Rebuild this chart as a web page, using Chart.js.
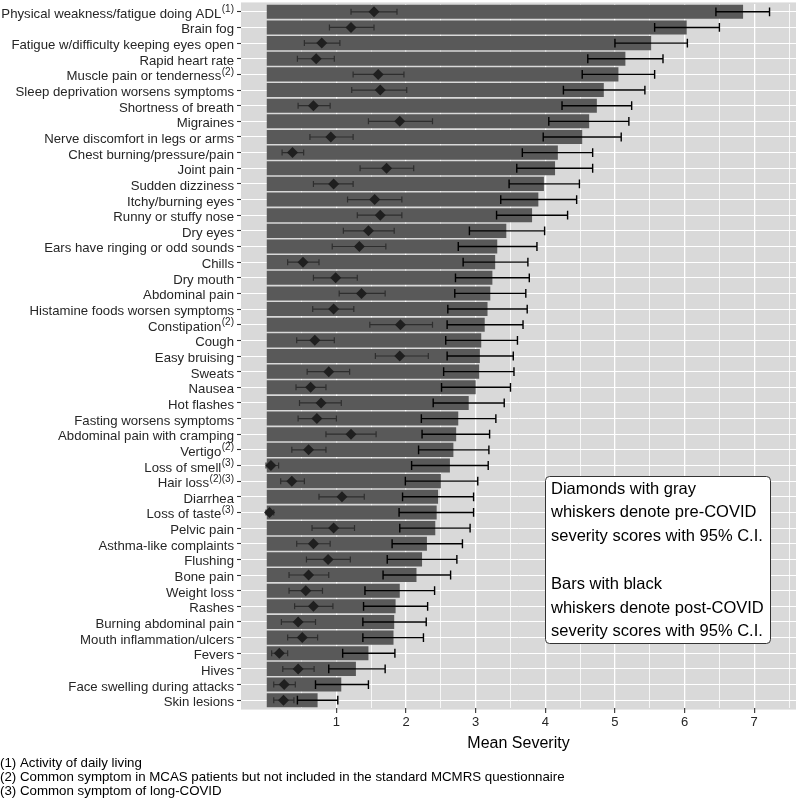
<!DOCTYPE html>
<html>

<head>
    <title>Mean severity pre and post COVID</title>
    <script src="https://cdn.jsdelivr.net/npm/chart.js"></script>
    <style>
        html, body { margin: 0; padding: 0; background: #fff; }
        #wrap { width: 796px; height: 799px; position: relative; }
    </style>
</head>

<body>
    <div id="wrap">
        <canvas id="myChart"></canvas>
    </div>

    <script>
        var symptoms = [
            'Physical weakness/fatigue doing ADL', 'Brain fog', 'Fatigue w/difficulty keeping eyes open',
            'Rapid heart rate', 'Muscle pain or tenderness', 'Sleep deprivation worsens symptoms',
            'Shortness of breath', 'Migraines', 'Nerve discomfort in legs or arms', 'Chest burning/pressure/pain',
            'Joint pain', 'Sudden dizziness', 'Itchy/burning eyes', 'Runny or stuffy nose', 'Dry eyes',
            'Ears have ringing or odd sounds', 'Chills', 'Dry mouth', 'Abdominal pain',
            'Histamine foods worsen symptoms', 'Constipation', 'Cough', 'Easy bruising', 'Sweats', 'Nausea',
            'Hot flashes', 'Fasting worsens symptoms', 'Abdominal pain with cramping', 'Vertigo',
            'Loss of smell', 'Hair loss', 'Diarrhea', 'Loss of taste', 'Pelvic pain', 'Asthma-like complaints',
            'Flushing', 'Bone pain', 'Weight loss', 'Rashes', 'Burning abdominal pain',
            'Mouth inflammation/ulcers', 'Fevers', 'Hives', 'Face swelling during attacks', 'Skin lesions'
        ];
        // footnote markers shown as superscript after the label
        var notes = [
            '(1)', '', '', '', '(2)', '', '', '', '', '', '', '', '', '', '', '', '', '', '', '', '(2)', '', '',
            '', '', '', '', '', '(2)', '(3)', '(2)(3)', '', '(3)', '', '', '', '', '', '', '', '', '', '', '', ''
        ];

        // post-COVID (bars, black whiskers)
        var postMean = [6.84, 6.03, 5.52, 5.15, 5.05, 4.84, 4.74, 4.63, 4.53, 4.18, 4.14, 3.98, 3.90, 3.81, 3.44,
            3.31, 3.28, 3.24, 3.21, 3.17, 3.13, 3.08, 3.06, 3.05, 3.00, 2.90, 2.75, 2.72, 2.68, 2.63, 2.50, 2.46,
            2.44, 2.42, 2.30, 2.23, 2.15, 1.91, 1.85, 1.83, 1.82, 1.46, 1.28, 1.07, 0.73];
        var postLow = [6.45, 5.57, 5.00, 4.61, 4.53, 4.26, 4.24, 4.05, 3.97, 3.67, 3.59, 3.48, 3.36, 3.30, 2.91,
            2.75, 2.82, 2.71, 2.70, 2.60, 2.59, 2.57, 2.59, 2.54, 2.51, 2.39, 2.22, 2.23, 2.18, 2.08, 1.99, 1.95,
            1.90, 1.91, 1.80, 1.73, 1.67, 1.41, 1.39, 1.38, 1.38, 1.09, 0.89, 0.70, 0.44];
        var postHigh = [7.22, 6.50, 6.04, 5.69, 5.57, 5.43, 5.24, 5.20, 5.09, 4.68, 4.68, 4.49, 4.45, 4.32, 3.99,
            3.88, 3.75, 3.77, 3.72, 3.74, 3.68, 3.60, 3.54, 3.55, 3.50, 3.41, 3.29, 3.20, 3.19, 3.18, 3.03, 2.97,
            2.97, 2.92, 2.81, 2.73, 2.64, 2.41, 2.31, 2.29, 2.25, 1.84, 1.70, 1.46, 1.02];

        // pre-COVID (diamonds, gray whiskers)
        var preMean = [1.54, 1.21, 0.79, 0.71, 1.60, 1.63, 0.67, 1.91, 0.92, 0.37, 1.72, 0.96, 1.55, 1.63, 1.46,
            1.33, 0.52, 0.99, 1.36, 0.96, 1.92, 0.69, 1.91, 0.89, 0.63, 0.78, 0.72, 1.21, 0.60, 0.06, 0.36, 1.08,
            0.04, 0.96, 0.67, 0.88, 0.60, 0.56, 0.67, 0.45, 0.51, 0.18, 0.45, 0.25, 0.24];
        var preLow = [1.21, 0.90, 0.54, 0.44, 1.24, 1.22, 0.45, 1.46, 0.62, 0.22, 1.34, 0.67, 1.16, 1.30, 1.10,
            0.94, 0.30, 0.67, 1.04, 0.66, 1.48, 0.43, 1.56, 0.58, 0.42, 0.47, 0.45, 0.85, 0.36, -0.01, 0.20, 0.75,
            -0.01, 0.65, 0.43, 0.57, 0.32, 0.32, 0.40, 0.21, 0.30, 0.07, 0.23, 0.10, 0.10];
        var preHigh = [1.87, 1.54, 1.05, 0.97, 1.97, 2.01, 0.91, 2.38, 1.24, 0.53, 2.11, 1.24, 1.94, 1.94, 1.83,
            1.71, 0.75, 1.30, 1.70, 1.25, 2.38, 0.97, 2.32, 1.19, 0.85, 1.07, 1.00, 1.57, 0.85, 0.17, 0.54, 1.40,
            0.10, 1.26, 0.91, 1.20, 0.89, 0.80, 0.95, 0.70, 0.73, 0.30, 0.68, 0.41, 0.39];

        var xGridValues = [0.5, 1, 1.5, 2, 2.5, 3, 3.5, 4, 4.5, 5, 5.5, 6, 6.5, 7, 7.5];

        var legendLines = [
            'Diamonds with gray', 'whiskers denote pre-COVID', 'severity scores with 95% C.I.', '',
            'Bars with black', 'whiskers denote post-COVID', 'severity scores with 95% C.I.'
        ];
        var footnotes = [
            '(1) Activity of daily living',
            '(2) Common symptom in MCAS patients but not included in the standard MCMRS questionnaire',
            '(3) Common symptom of long-COVID'
        ];

        var FONT = '"Liberation Sans", Arial, Helvetica, sans-serif';
        Chart.defaults.font.family = FONT;

        var ggPlugin = {
            id: 'gg',
            beforeDraw: function (chart) {
                // gray panel, a bit taller than the chart area (ggplot's 0.6 expansion)
                var a = chart.chartArea, ctx = chart.ctx;
                var ext = (a.bottom - a.top) / symptoms.length * 0.1;
                ctx.save();
                ctx.fillStyle = '#d9d9d9';
                ctx.fillRect(a.left, a.top - ext, a.right - a.left, a.bottom - a.top + 2 * ext);
                ctx.restore();
            },
            afterDatasetDraw: function (chart, args) {
                if (args.index !== 0) return;
                var ctx = chart.ctx, xs = chart.scales.x, ys = chart.scales.y;
                ctx.save();
                for (var i = 0; i < symptoms.length; i++) {
                    var y = ys.getPixelForValue(i);
                    // post-COVID whiskers
                    var x1 = xs.getPixelForValue(postLow[i]), x2 = xs.getPixelForValue(postHigh[i]);
                    ctx.strokeStyle = '#000';
                    ctx.lineWidth = 1.4;
                    ctx.beginPath();
                    ctx.moveTo(x1, y); ctx.lineTo(x2, y);
                    ctx.moveTo(x1, y - 4.4); ctx.lineTo(x1, y + 4.4);
                    ctx.moveTo(x2, y - 4.4); ctx.lineTo(x2, y + 4.4);
                    ctx.stroke();
                    // pre-COVID whiskers
                    x1 = xs.getPixelForValue(preLow[i]); x2 = xs.getPixelForValue(preHigh[i]);
                    ctx.strokeStyle = '#2e2e2e';
                    ctx.lineWidth = 1.2;
                    ctx.beginPath();
                    ctx.moveTo(x1, y); ctx.lineTo(x2, y);
                    ctx.moveTo(x1, y - 3); ctx.lineTo(x1, y + 3);
                    ctx.moveTo(x2, y - 3); ctx.lineTo(x2, y + 3);
                    ctx.stroke();
                }
                ctx.restore();
            },
            afterDraw: function (chart) {
                var ctx = chart.ctx, ys = chart.scales.y, a = chart.chartArea;
                ctx.save();

                // y labels with superscript footnote markers
                var right = a.left - 7;
                ctx.fillStyle = '#262626';
                for (var i = 0; i < symptoms.length; i++) {
                    var base = ys.getPixelForValue(i) + 6;
                    var supW = 0;
                    if (notes[i]) {
                        ctx.font = '10px ' + FONT;
                        supW = ctx.measureText(notes[i]).width + 0.5;
                        ctx.textAlign = 'left';
                        ctx.textBaseline = 'alphabetic';
                        ctx.fillText(notes[i], right - supW + 0.5, base - 5.5);
                    }
                    ctx.font = '13.2px ' + FONT;
                    ctx.textAlign = 'right';
                    ctx.textBaseline = 'alphabetic';
                    ctx.fillText(symptoms[i], right - supW, base);
                }

                // note box
                var bx = 545, by = 476, bw = 225, bh = 167;
                ctx.beginPath();
                ctx.roundRect(bx + 0.5, by + 0.5, bw, bh, 4);
                ctx.fillStyle = '#fff';
                ctx.fill();
                ctx.strokeStyle = '#333';
                ctx.lineWidth = 1;
                ctx.stroke();
                ctx.fillStyle = '#000';
                ctx.font = '16.5px ' + FONT;
                ctx.textAlign = 'left';
                ctx.textBaseline = 'middle';
                legendLines.forEach(function (t, k) {
                    if (t) ctx.fillText(t, bx + 6, by + 13 + k * 23.8);
                });

                // footnotes under the plot
                ctx.font = '13.3px ' + FONT;
                ctx.fillStyle = '#000';
                footnotes.forEach(function (t, k) {
                    ctx.fillText(t, 0, 763 + k * 14.2);
                });
                ctx.restore();
            }
        };

        var ctx = document.getElementById('myChart').getContext('2d');

        var myChart = new Chart(ctx, {
            type: 'bar',
            data: {
                labels: symptoms,
                datasets: [
                    {
                        label: 'Post-COVID',
                        data: postMean,
                        backgroundColor: '#595959',
                        borderWidth: 0,
                        barPercentage: 0.9,
                        categoryPercentage: 1,
                        order: 2
                    },
                    {
                        type: 'line',
                        label: 'Pre-COVID',
                        indexAxis: 'y',
                        data: preMean,
                        showLine: false,
                        pointStyle: 'rectRot',
                        pointRadius: 5.5,
                        pointHoverRadius: 5.5,
                        pointBackgroundColor: '#1f1f1f',
                        pointBorderWidth: 0,
                        order: 1
                    }
                ]
            },
            plugins: [ggPlugin],
            options: {
                indexAxis: 'y',
                responsive: true,
                maintainAspectRatio: false,
                animation: false,
                layout: { autoPadding: false, padding: { top: 4, right: 0, bottom: 0, left: 0 } },
                plugins: {
                    legend: { display: false },
                    tooltip: { enabled: false }
                },
                scales: {
                    x: {
                        type: 'linear',
                        min: -0.37,
                        max: 7.6,
                        afterBuildTicks: function (s) {
                            s.ticks = xGridValues.map(function (v) { return { value: v }; });
                        },
                        afterFit: function (s) {
                            s.height = 91;
                            s.paddingLeft = 0;
                            s.paddingRight = 0;
                        },
                        ticks: {
                            autoSkip: false,
                            maxRotation: 0,
                            padding: 2,
                            color: '#262626',
                            font: { size: 13 },
                            callback: function (v) { return Number.isInteger(v) ? v : ''; }
                        },
                        grid: {
                            color: '#ffffff',
                            lineWidth: function (c) { return Number.isInteger(c.tick.value) ? 1.3 : 0.8; },
                            tickColor: function (c) { return Number.isInteger(c.tick.value) ? '#333' : 'rgba(0,0,0,0)'; },
                            tickWidth: 1.1,
                            tickLength: 5
                        },
                        border: { display: false },
                        title: {
                            display: true,
                            text: 'Mean Severity',
                            color: '#000',
                            font: { size: 16, lineHeight: 1.2 },
                            padding: { top: 0, bottom: 46 }
                        }
                    },
                    y: {
                        type: 'category',
                        offset: true,
                        afterFit: function (s) { s.width = 241; },
                        ticks: { display: false },
                        grid: {
                            offset: false,
                            color: '#ffffff',
                            lineWidth: 1,
                            tickColor: '#333',
                            tickWidth: 1.1,
                            tickLength: 4
                        },
                        border: { display: false }
                    }
                }
            }
        });
    </script>

</body>

</html>
